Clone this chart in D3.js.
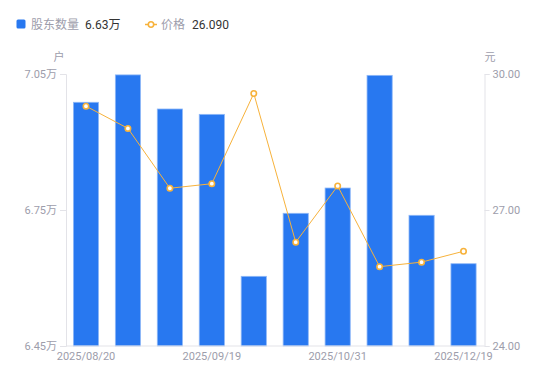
<!DOCTYPE html>
<html><head><meta charset="utf-8">
<script src="https://cdn.jsdelivr.net/npm/d3@7/dist/d3.min.js"></script>
<style>body{margin:0;background:#fff;font-family:"Noto Sans CJK SC","Noto Sans",sans-serif;}</style>
</head><body><svg id="c" width="550" height="381"></svg>
<script>
const categories = ["2025/08/20","2025/08/29","2025/09/10","2025/09/19","2025/09/30","2025/10/20","2025/10/31","2025/11/20","2025/11/28","2025/12/19"];
const holders = [69876, 70480, 69728, 69610, 66037, 67427, 67985, 70470, 67383, 66315];
const prices = [29.29, 28.80, 27.48, 27.58, 29.57, 26.29, 27.53, 25.75, 25.85, 26.09];
const leftTicks = [64500, 67500, 70500];
const rightTicks = [24, 27, 30];
const xTickLabels = ["2025/08/20","2025/09/19","2025/10/31","2025/12/19"];

const svg = d3.select("#c");
const L = 65, R = 484.5, T = 74, B = 346;
const x = d3.scaleBand().domain(categories).range([L, R]).paddingInner(0.4).paddingOuter(0.2);
const yL = d3.scaleLinear().domain([64500, 70500]).range([B, T]);
const yR = d3.scaleLinear().domain([24, 30]).range([B, T]);
const gray = "#9d9dab", axisCol = "#e3e3e8";
const font = "Roboto, 'Noto Sans CJK SC', sans-serif";

// bars
svg.append("g").selectAll("rect").data(holders).join("rect")
  .attr("x", (d,i)=>x(categories[i])).attr("width", x.bandwidth())
  .attr("y", d=>yL(Math.min(d,70500))).attr("height", d=>B - yL(Math.min(d,70500)))
  .attr("fill", "#2878f0").attr("stroke", "#8fb8f7").attr("stroke-width", 0.8);

// axes
const gl = svg.append("g").attr("transform", `translate(${L+1},0)`)
  .call(d3.axisLeft(yL).tickValues(leftTicks).tickSize(6).tickPadding(3)
    .tickFormat(d=>(d/10000).toFixed(2)+"万"));
const gr = svg.append("g").attr("transform", `translate(${R},0)`)
  .call(d3.axisRight(yR).tickValues(rightTicks).tickSize(5).tickPadding(3)
    .tickFormat(d=>d.toFixed(2)));
const gb = svg.append("g").attr("transform", `translate(0,${B})`)
  .call(d3.axisBottom(x).tickValues(xTickLabels).tickSize(0).tickPadding(6));
[gl, gr, gb].forEach(g=>{
  g.selectAll(".domain").attr("stroke", axisCol);
  g.selectAll(".tick line").attr("stroke", axisCol);
  g.selectAll("text").attr("fill", gray).style("font-size","11px").style("font-family", font);
});
gb.select(".domain").attr("d", `M${L+1},0H${R}`);

// unit labels
svg.append("text").attr("x", 59).attr("y", 61).attr("text-anchor","middle")
  .attr("fill", gray).style("font-size","11px").text("户");
svg.append("text").attr("x", 490).attr("y", 61).attr("text-anchor","middle")
  .attr("fill", gray).style("font-size","11px").text("元");

// line
const line = d3.line().x((d,i)=>x(categories[i]) + x.bandwidth()/2).y(d=>yR(d));
svg.append("path").datum(prices).attr("d", line).attr("fill","none")
  .attr("stroke","#f7b23b").attr("stroke-width",1);
svg.append("g").selectAll("circle").data(prices).join("circle")
  .attr("cx",(d,i)=>x(categories[i]) + x.bandwidth()/2).attr("cy", d=>yR(d)).attr("r",2.7)
  .attr("fill","#fff").attr("stroke","#f7b23b").attr("stroke-width",1.6);

// legend
const lg = svg.append("g").style("font-size","12px");
lg.append("rect").attr("x",16.5).attr("y",19.5).attr("width",9).attr("height",9).attr("rx",1.5).attr("fill","#2878f0");
lg.append("text").attr("x",31).attr("y",29).attr("fill",gray).text("股东数量");
lg.append("text").attr("x",85).attr("y",29).attr("fill","#333").style("font-family",font).text((holders[holders.length-1]/10000).toFixed(2)+"万");
lg.append("line").attr("x1",145).attr("x2",157).attr("y1",24.5).attr("y2",24.5).attr("stroke","#f7b23b").attr("stroke-width",1.5);
lg.append("circle").attr("cx",151).attr("cy",24.5).attr("r",2.7).attr("fill","#fff").attr("stroke","#f7b23b").attr("stroke-width",1.6);
lg.append("text").attr("x",161).attr("y",29).attr("fill",gray).text("价格");
lg.append("text").attr("x",192).attr("y",29).attr("fill","#333").style("font-family",font).text(prices[prices.length-1].toFixed(3));
</script></body></html>
